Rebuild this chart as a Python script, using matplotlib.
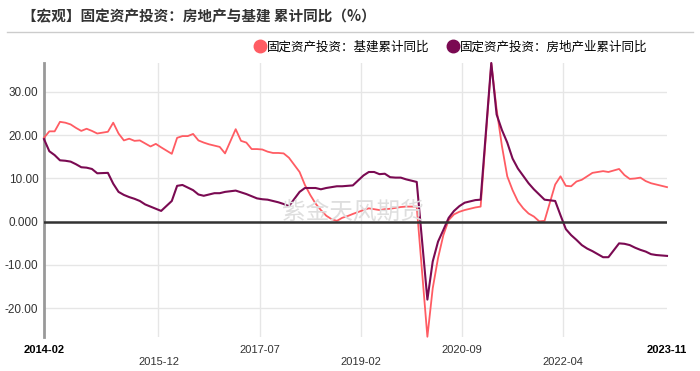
import matplotlib
matplotlib.use("Agg")
import matplotlib.pyplot as plt
from matplotlib.lines import Line2D
import pandas as pd

# monthly cumulative data, January not published (Feb..Dec each year)
months = [d for d in pd.date_range("2014-02-01", "2023-11-01", freq="MS") if d.month != 1]

# 固定资产投资：基建累计同比
infra = [
    19.4, 20.9, 20.9, 23.1, 22.9, 22.5, 21.7, 21.0, 21.5, 21.0, 20.4,  # 2014
    20.8, 22.9, 20.4, 18.8, 19.2, 18.7, 18.8, 18.1, 17.4, 18.0, 17.2,  # 2015
    15.7, 19.4, 19.8, 19.8, 20.3, 18.8, 18.3, 17.9, 17.6, 17.3, 15.8,  # 2016
    21.4, 18.7, 18.3, 16.8, 16.8, 16.7, 16.2, 15.9, 15.9, 15.8, 14.8,  # 2017
    11.5, 8.5, 6.2, 4.2, 2.7, 1.4, 0.6, 0.2, 0.9, 1.3, 1.8,  # 2018
    2.7, 3.1, 2.9, 2.7, 2.9, 3.0, 3.2, 3.4, 3.5, 3.5, 3.5,  # 2019
    -26.6, -15.4, -8.4, -3.1, 0.4, 1.7, 2.3, 2.7, 3.0, 3.3, 3.5,  # 2020
    36.6, 26.0, 17.5, 10.5, 7.3, 4.7, 3.1, 1.9, 1.2, 0.1, 0.2,  # 2021
    8.6, 10.5, 8.3, 8.2, 9.3, 9.7, 10.5, 11.3, 11.5, 11.7, 11.5,  # 2022
    12.2, 10.8, 9.9, 10.0, 10.2, 9.4, 8.9, 8.6, 8.3, 8.0,  # 2023
]

# 固定资产投资：房地产业累计同比
realestate = [
    19.1, 16.3, 15.4, 14.2, 14.1, 13.9, 13.3, 12.6, 12.5, 12.2, 11.2,  # 2014
    11.3, 8.8, 6.9, 6.2, 5.7, 5.3, 4.8, 4.0, 3.5, 3.0, 2.5,  # 2015
    4.8, 8.3, 8.5, 7.9, 7.3, 6.3, 6.0, 6.3, 6.6, 6.6, 6.9,  # 2016
    7.2, 6.8, 6.4, 5.9, 5.4, 5.2, 5.1, 4.8, 4.5, 4.1, 3.6,  # 2017
    6.9, 7.8, 7.8, 7.8, 7.5, 7.8, 8.0, 8.2, 8.2, 8.3, 8.4,  # 2018
    10.7, 11.5, 11.5, 11.0, 11.1, 10.3, 10.2, 10.2, 9.8, 9.5, 9.2,  # 2019
    -18.0, -9.2, -4.6, -1.9, 0.9, 2.5, 3.6, 4.4, 4.7, 5.0, 5.1,  # 2020
    36.7, 24.8, 21.2, 18.3, 14.6, 12.3, 10.6, 8.9, 7.5, 6.3, 5.1,  # 2021
    4.8, 1.5, -1.7, -3.1, -4.2, -5.4, -6.2, -6.8, -7.5, -8.2, -8.2,  # 2022
    -5.0, -5.1, -5.4, -6.0, -6.5, -6.9, -7.5, -7.7, -7.8, -7.9,  # 2023
]

tick_labels = ["2014-02", "2015-12", "2017-07", "2019-02", "2020-09", "2022-04", "2023-11"]
y_ticks = [-20, -10, 0, 10, 20, 30]
y_tick_labels = ["-20.00", "-10.00", "0.000", "10.00", "20.00", "30.00"]

series_names = ["固定资产投资：基建累计同比", "固定资产投资：房地产业累计同比"]
colors = ["#ff5c63", "#7a0a52"]

cjk = ["Noto Sans CJK SC", "DejaVu Sans"]
num_font = "Liberation Sans"


def month_index(d):
    return (d.year - 2014) * 12 + d.month - 2


x = [month_index(d) for d in months]

fig = plt.figure(figsize=(7, 3.71), dpi=100)
ax = fig.add_axes([44 / 700, 1 - 337 / 371, (667 - 44) / 700, (337 - 63) / 371])

# title and separator
fig.text(22 / 700, 1 - 16 / 371, "【宏观】固定资产投资：房地产与基建 累计同比（%）",
         family=cjk, fontsize=10.5, fontweight="bold", color="#333333", va="center")
fig.add_artist(Line2D([7 / 700, 693 / 700], [1 - 31.5 / 371] * 2, color="#cccccc", lw=1))

# watermark
fig.text(353 / 700, 1 - 212 / 371, "紫金天风期货", family=cjk, fontsize=17,
         fontweight="light", color="#dedede", ha="center", va="center", zorder=1)

ax.plot(x, infra, color=colors[0], lw=1.3, zorder=3, clip_on=False)
ax.plot(x, realestate, color=colors[1], lw=1.5, zorder=4, clip_on=False)

ax.set_xlim(0, month_index(months[-1]))
ax.set_ylim(-26.65, 36.7)

ax.axhline(0, color="#333333", lw=1.8, zorder=5)

# x ticks: inner labels sit half a month before the labelled month
tick_pos = []
for i, lab in enumerate(tick_labels):
    m = month_index(pd.Timestamp(lab + "-01"))
    if 0 < i < len(tick_labels) - 1:
        m -= 0.5
        ax.axvline(m, color="#e6e6e6", lw=1, zorder=0)
    tick_pos.append(m)
ax.set_xticks(tick_pos)
ax.set_xticklabels([lab if i % 2 == 0 else "\n" + lab for i, lab in enumerate(tick_labels)],
                   family=num_font, fontsize=8, color="#333333")
for i in (0, len(tick_labels) - 1):
    ax.get_xticklabels()[i].set_fontweight("bold")
    ax.get_xticklabels()[i].set_color("#000000")
ax.tick_params(axis="x", length=0, pad=6)

ax.set_yticks(y_ticks)
ax.set_yticklabels(y_tick_labels, family=num_font, fontsize=8.5, color="#333333")
ax.tick_params(axis="y", length=0, pad=4)
ax.yaxis.grid(True, color="#e6e6e6", lw=1, zorder=0)
ax.set_axisbelow(True)

for s in ["top", "right", "bottom"]:
    ax.spines[s].set_visible(False)
ax.spines["left"].set_color("#999999")
ax.spines["left"].set_linewidth(2)
ax.patch.set_alpha(0)

handles = [Line2D([], [], marker="o", ls="", color=c, markersize=9) for c in colors]
fig.legend(handles, series_names, loc="center", bbox_to_anchor=(451 / 700, 1 - 47 / 371),
           ncol=2, frameon=False, prop={"family": cjk, "size": 9}, handletextpad=0.05,
           columnspacing=1.4, handlelength=1.0)

fig.savefig("out.png", dpi=100)
